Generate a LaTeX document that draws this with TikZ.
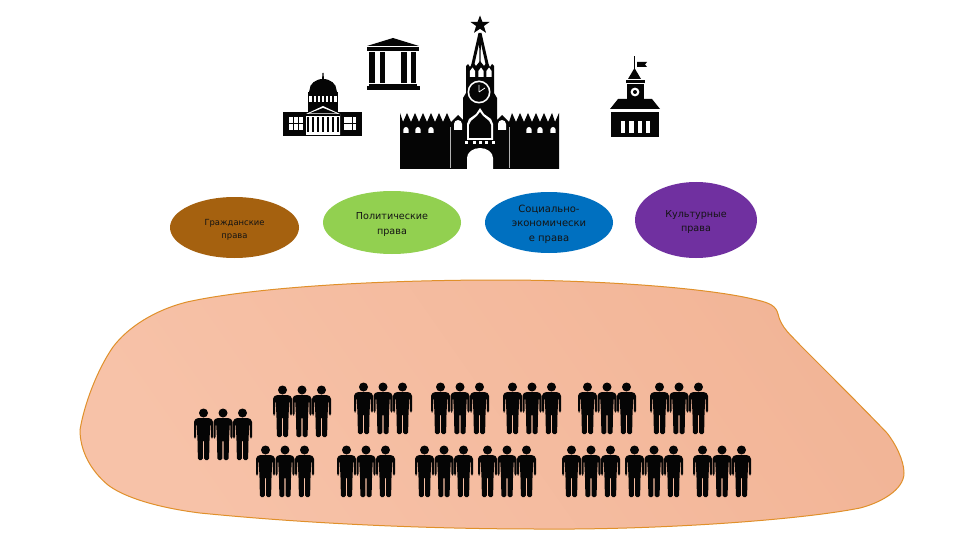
\documentclass[tikz,border=0pt]{standalone}
\usepackage{fontspec}
\setmainfont{DejaVu Sans}
\usetikzlibrary{shapes.geometric}
\definecolor{brownR}{HTML}{A5610F}
\definecolor{greenR}{HTML}{92D050}
\definecolor{blueR}{HTML}{0070C0}
\definecolor{purpleR}{HTML}{7030A0}
\definecolor{blobA}{HTML}{F7C2A8}
\definecolor{blobB}{HTML}{F2B597}
\definecolor{blobEdge}{HTML}{E0902A}
\definecolor{inkR}{HTML}{050505}
\tikzset{
  x=1pt,y=-1pt,
  rights/.style={ellipse,inner sep=0pt},
  rtext/.style n args={3}{align=center,text=black!92,yshift=-#3pt,font=\fontsize{#1}{#2}\selectfont},
  sil/.style={fill=inkR,draw=none},
  wht/.style={fill=white,draw=none},
  person/.pic={
    \fill[inkR] (0,4) circle[radius=4.5];
    \fill[inkR,rounded corners=1.5pt] (-6.5,9) -- (6.5,9) -- (9.5,11.5) -- (9.5,29.5) -- (7.4,29.5) -- (7.4,15) -- (6.8,15) -- (6,31) -- (5.6,51) -- (.6,51) -- (.6,31) -- (-.6,31) -- (-.6,51) -- (-5.6,51) -- (-6,31) -- (-6.8,15) -- (-7.4,15) -- (-7.4,29.5) -- (-9.5,29.5) -- (-9.5,11.5) -- cycle;
  },
  trio/.pic={
    \pic at (-19.5,0) {person};
    \pic at (0,0) {person};
    \pic at (19.5,0) {person};
  },
}
\begin{document}
\begin{tikzpicture}
\useasboundingbox (0,0) rectangle (960,540);
\fill[white] (0,0) rectangle (960,540);
% blob
\path[left color=blobA,right color=blobB,shading angle=125,draw=blobEdge,line width=1pt]
  (80,430) .. controls (84,405) and (97,370) .. (113,347)
  .. controls (128,327) and (155,310) .. (187,302)
  .. controls (250,288) and (370,280) .. (500,280)
  .. controls (600,280) and (710,288) .. (757,300)
  .. controls (770,303) and (776,306) .. (778,314)
  .. controls (781,328) and (792,336) .. (800,345)
  .. controls (830,375) and (865,410) .. (887,433)
  .. controls (895,443) and (904,460) .. (904,473)
  .. controls (904,490) and (880,503) .. (860,508)
  .. controls (800,520) and (660,530) .. (540,529)
  .. controls (420,529) and (300,523) .. (200,513)
  .. controls (160,508) and (125,498) .. (108,485)
  .. controls (90,470) and (80,450) .. (80,430) -- cycle;
% people
\foreach \cx/\cy in {223/409,302/386,383/383,460/383,532/383,607/383,679/383,
  285/446,366/446,444/446,507/446,591/446,654/446,722/446}
  \pic at (\cx,\cy) {trio};
% Kremlin
\fill[sil] (400,169) -- (400,113) -- (403,122) -- (407,113) -- (411,122) -- (415,113) -- (419,122) -- (423,113) -- (427,122) -- (431,113) -- (435,122) -- (439,113) -- (443,122) -- (447,113) -- (451,122) -- (455,118) -- (458,115) -- (463,120) -- (463,98) -- (466,93) -- (466,66) -- (468,64) -- (470,67) -- (473,62) -- (476,66) -- (480,61) -- (484,66) -- (487,62) -- (490,67) -- (492,64) -- (494,66) -- (494,93) -- (497,98) -- (497,120) -- (502,115) -- (505,118) -- (509,122) -- (512,113) -- (516,122) -- (520,113) -- (524,122) -- (528,113) -- (532,122) -- (536,113) -- (540,122) -- (544,113) -- (548,122) -- (552,113) -- (555,122) -- (559,113) -- (559,169) -- cycle;
\fill[sil] (478.5,33) -- (481.5,33) -- (489,66) -- (486,66) -- (480.8,43) -- (480.6,66) -- (479.4,66) -- (479.2,43) -- (474,66) -- (471,66) -- cycle;
\fill[sil] (480,15.5) -- (482.4,21.8) -- (489.5,22) -- (483.9,26) -- (486,32.8) -- (480,28.8) -- (474,32.8) -- (476.1,26) -- (470.5,22) -- (477.6,21.8) -- cycle;
\foreach \wx in {472.5,481,489}
  \fill[wht] (\wx-2.6,77) -- (\wx-2.6,71) -- (\wx,67.5) -- (\wx+2.6,71) -- (\wx+2.6,77) -- cycle;
\fill[wht] (479,92) circle[radius=11.5];
\fill[sil] (479,92) circle[radius=9.8];
\draw[white,line width=.7pt] (479,92) -- (479,85) (479,92) -- (485,88);
\fill[wht] (480,108) -- (484,114) -- (491,119) -- (493,124) -- (493,140) -- (467,140) -- (467,124) -- (469,119) -- (476,114) -- cycle;
\fill[sil] (480,112) -- (483,116) -- (489,121) -- (491,125) -- (491,138) -- (469,138) -- (469,125) -- (471,121) -- (477,116) -- cycle;
\foreach \wx in {466,474,480,486,493} \fill[wht] (\wx-1.5,141) rectangle (\wx+1.5,144);
\fill[wht] (467,169) -- (467,158) arc[start angle=180,end angle=0,x radius=13,y radius=-10] -- (493,169) -- cycle;
\foreach \wx in {406,418,431,529,540,553}
  \fill[wht] (\wx-2.7,133) -- (\wx-2.7,130) arc[start angle=180,end angle=0,x radius=2.7,y radius=-3] -- (\wx+2.7,133) -- cycle;
\foreach \wx in {458,502}
  \fill[wht] (\wx-4,130) -- (\wx-4,124) arc[start angle=180,end angle=0,x radius=4,y radius=-4] -- (\wx+4,130) -- cycle;
\fill[gray!60] (449.5,127) rectangle (451.2,168);
\fill[gray!60] (508.5,127) rectangle (510.2,168);
% Temple
\fill[sil] (393,38) -- (419,46) -- (367,46) -- cycle;
\fill[sil] (367,47) rectangle (419,51);
\fill[sil] (369,52) rectangle (375,83);
\fill[sil] (380,52) rectangle (385,83);
\fill[sil] (401,52) rectangle (407,83);
\fill[sil] (411,52) rectangle (416,83);
\fill[sil] (369,84) rectangle (417,86);
\fill[sil] (367,86) rectangle (420,90);
% Capitol
\fill[sil] (283,112) rectangle (362,136);
\fill[sil] (308,92) rectangle (338,112);
\fill[sil] (322.5,73) -- (323.5,73) -- (324,80) -- (322,80) -- cycle;
\fill[sil] (309,92) -- (309.5,90) arc[start angle=180,end angle=0,x radius=13.5,y radius=-11] -- (337,92) -- cycle;
\fill[wht] (309,96) rectangle (337,102);
\foreach \wx in {313,317,321,325,329,333} \fill[sil] (\wx-.8,96) rectangle (\wx+.8,102);
\fill[wht] (306,114) -- (323,106) -- (340,114) -- (340,135) -- (306,135) -- cycle;
\fill[sil] (309,113.5) -- (323,108) -- (337,113.5) -- cycle;
\fill[sil] (306,114.5) rectangle (340,116);
\foreach \wx in {308,313,318,323,328,333,338} \fill[sil] (\wx-1.2,117) rectangle (\wx+1.2,132);
\foreach \wx in {289,294,299,344,348.3,352.6} \foreach \wy in {117,124.5}
  \fill[wht] (\wx,\wy) rectangle (\wx+3.8,\wy+6);
% Town hall
\fill[sil] (633.6,56) rectangle (635,72);
\fill[sil] (637,62) -- (647,62) -- (645,64.5) -- (647,67) -- (637,67) -- cycle;
\fill[sil] (634.5,68) -- (641,79) -- (628,79) -- cycle;
\fill[sil] (626,80) rectangle (645,83.5);
\fill[sil] (627,84) rectangle (644,103);
\fill[wht] (635,92) circle[radius=4.4];
\fill[sil] (635,92) circle[radius=2];
\fill[sil] (618,99) -- (652,99) -- (660,109) -- (610,109) -- cycle;
\fill[sil] (611,112) rectangle (659,137);
\foreach \wx in {621,629.2,637.5,645.5} \fill[wht] (\wx,121) rectangle (\wx+4.4,133);
% ellipses
\node[rights,fill=brownR,minimum width=129pt,minimum height=61pt,label={[rtext={8.4}{13}{2.5}]center:Гражданские\\права}] (civil) at (234.5,227.5) {};
\node[rights,fill=greenR,minimum width=138pt,minimum height=63pt,label={[rtext={9.6}{15}{2}]center:Политические\\права}] (polit) at (392,222.5) {};
\node[rights,fill=blueR,minimum width=128pt,minimum height=61pt,label={[rtext={10}{14.5}{1.5}]center:Социально-\\экономически\\е права}] (socio) at (549,222.5) {};
\node[rights,fill=purpleR,minimum width=122pt,minimum height=76pt,label={[rtext={9.6}{14}{1.5}]center:Культурные\\права}] (cult) at (696,220) {};
\end{tikzpicture}
\end{document}
